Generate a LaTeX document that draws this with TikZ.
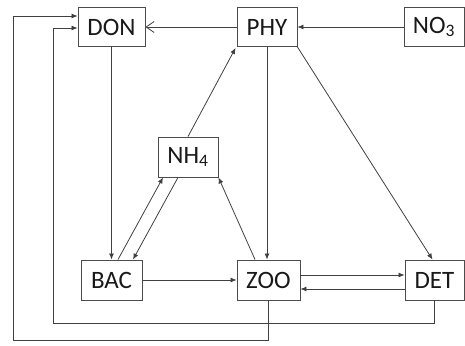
\documentclass[tikz,border=0pt]{standalone}
\usepackage{fontspec}
\setmainfont{Carlito}
\usetikzlibrary{calc,arrows.meta}
\begin{document}
\begin{tikzpicture}[x=1pt,y=-1pt,
  box/.style={draw=black!70,line width=0.9pt,fill=white,minimum height=39pt,inner sep=0pt,text=black!90,font=\fontsize{25}{30}\selectfont},
  conn/.style={draw=black!75,line width=0.8pt,-{Latex[length=6pt,width=5pt]}},
  openconn/.style={draw=black!75,line width=0.8pt,-{Straight Barb[length=8pt,width=11pt]}}]
\useasboundingbox (0,0) rectangle (465,345);
\node[box,minimum width=67pt] (DON) at (111.5,27) {DON};
\node[box,minimum width=60pt] (PHY) at (267,27) {PHY};
\node[box,minimum width=60pt] (NO3) at (434,27) {NO\textsubscript{3}};
\node[box,minimum width=60pt,minimum height=40pt] (NH4) at (188,157) {NH\textsubscript{4}};
\node[box,minimum width=61pt,minimum height=40pt] (BAC) at (111.5,280) {BAC};
\node[box,minimum width=63pt,minimum height=40pt] (ZOO) at (268.5,280) {ZOO};
\node[box,minimum width=59pt,minimum height=40pt] (DET) at (434.5,280) {DET};
\coordinate (c1) at (53,323);
\coordinate (c2) at (13,340);
\draw[openconn] (PHY.west) -- (DON.east);
\draw[conn] (NO3.west) -- (PHY.east);
\draw[conn] (DON.south) -- (DON.south |- BAC.north);
\draw[conn] (NH4.north) -- ($(PHY.south west)+(-1,1)$);
\draw[conn] (PHY.south) -- (PHY.south |- ZOO.north);
\draw[conn] (PHY.south east) -- ($(DET.north)+(-2,0)$);
\draw[conn] ($(BAC.north)+(6.5,0)$) -- ($(NH4.south)+(-25,0)$);
\draw[conn] ($(NH4.south)+(-10,0)$) -- ($(BAC.north)+(21.5,0)$);
\draw[conn] ($(ZOO.north)+(-13.5,0)$) -- (NH4.south east);
\draw[conn] (BAC.east) -- (ZOO.west);
\draw[conn] ($(ZOO.east)+(0,-5)$) -- ($(DET.west)+(0,-5)$);
\draw[conn] ($(DET.west)+(0,9)$) -- ($(ZOO.east)+(0,9)$);
\draw[conn] (DET.south) |- (c1) |- ($(DON.west)+(0,1)$);
\draw[conn] (ZOO.south) |- (c2) |- ($(DON.west)+(0,-11)$);
\end{tikzpicture}
\end{document}
